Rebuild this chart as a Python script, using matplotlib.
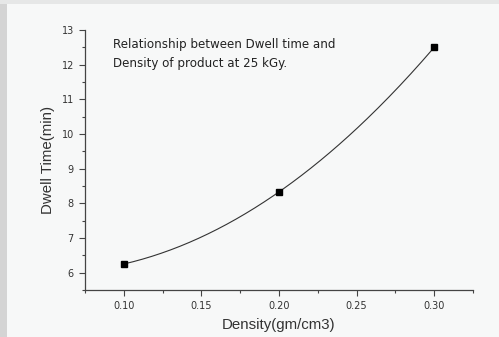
import numpy as np
import matplotlib.pyplot as plt
from matplotlib.patches import Rectangle
from matplotlib.ticker import MultipleLocator

# measured dwell time against product density
density = [0.10, 0.20, 0.30]
dwell_time = [6.25, 8.33, 12.5]

x_ticks = [0.10, 0.15, 0.20, 0.25, 0.30]
y_ticks = [6, 7, 8, 9, 10, 11, 12, 13]

plt.rcParams["font.family"] = ["Liberation Sans", "DejaVu Sans"]

fig = plt.figure(figsize=(4.99, 3.37), dpi=100)
fig.patch.set_facecolor("#f7f8f8")

# grey border strips on the left and top
fig.patches.append(Rectangle((0, 0), 7 / 499, 1, transform=fig.transFigure,
                             facecolor="#d4d4d4", edgecolor="none", zorder=0))
fig.patches.append(Rectangle((0, 1 - 4 / 337), 1, 4 / 337, transform=fig.transFigure,
                             facecolor="#e6e7e7", edgecolor="none", zorder=0))

ax = fig.add_axes([85 / 499, 1 - 290 / 337, 388 / 499, 260 / 337])
ax.set_facecolor("none")

# smooth fitted curve through the measurements
coef = np.polyfit(density, dwell_time, 2)
xs = np.linspace(min(density), max(density), 200)
ax.plot(xs, np.polyval(coef, xs), color="#333333", lw=0.8)
ax.plot(density, dwell_time, "s", color="black", ms=4.5)

ax.set_xlim(0.075, 0.325)
ax.set_ylim(5.5, 13)
ax.set_xticks(x_ticks)
ax.set_yticks(y_ticks)
ax.set_xticklabels([f"{v:.2f}" for v in x_ticks])
ax.xaxis.set_minor_locator(MultipleLocator(0.025))
ax.yaxis.set_minor_locator(MultipleLocator(0.5))

for side in ("top", "right"):
    ax.spines[side].set_visible(False)
for side in ("left", "bottom"):
    ax.spines[side].set_color("#444444")
    ax.spines[side].set_linewidth(0.9)

ax.tick_params(which="major", direction="out", length=4, width=0.8,
               color="#444444", labelsize=7, labelcolor="#333333", pad=4)
ax.tick_params(which="minor", direction="out", length=2.5, width=0.8, color="#444444")
for lab in ax.get_xticklabels() + ax.get_yticklabels():
    lab.set_family("DejaVu Sans")

ax.set_xlabel("Density(gm/cm3)", fontsize=10.8, color="#333333", labelpad=5)
ax.set_ylabel("Dwell Time(min)", fontsize=10.8, color="#333333", labelpad=5)

ax.text(0.093, 12.76, "Relationship between Dwell time and\nDensity of product at 25 kGy.",
        fontsize=8.6, family="DejaVu Sans", color="#222222", va="top", ha="left",
        linespacing=1.6)

fig.savefig("out.png", dpi=100, facecolor=fig.get_facecolor())
